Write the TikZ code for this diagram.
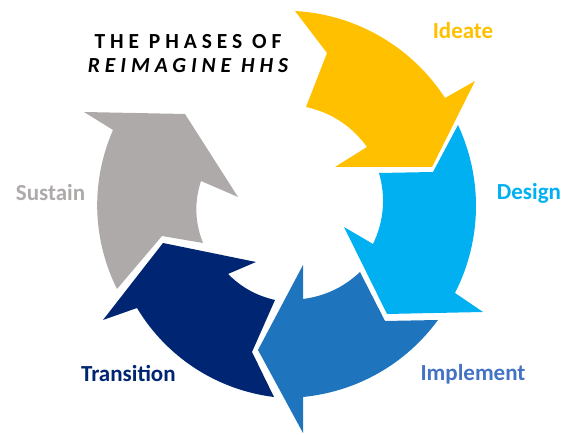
\documentclass[tikz,border=0pt]{standalone}
\usepackage{fontspec}
\setmainfont{Carlito}
\newfontfamily\spacedfont[LetterSpace=23]{Carlito}
\definecolor{ideateY}{RGB}{255,192,0}
\definecolor{designB}{RGB}{0,176,240}
\definecolor{implB}{RGB}{31,116,190}
\definecolor{implT}{RGB}{68,114,196}
\definecolor{transN}{RGB}{0,38,115}
\definecolor{sustG}{RGB}{174,170,170}

\begin{document}
\begin{tikzpicture}[x=1pt,y=1pt,looseness=0.9,
  lbl/.style={font=\fontsize{23}{27}\selectfont\bfseries,anchor=base,inner sep=0pt},
  ttl/.style={font=\fontsize{21.5}{24.3}\selectfont\spacedfont\bfseries,align=center,anchor=base,inner sep=0pt}]
  \useasboundingbox (0,0) rectangle (578,435);
  % the five arrows, clockwise from the top
  \fill[ideateY] (295,424) to[bend left=27] (445,337) -- (475,354) -- (432,268) -- (335,268) -- (367,288) to[bend right=21] (306,328) -- (327,382) -- cycle;
  \fill[designB] (458,310) to[bend left=26] (455,142) -- (483,123) -- (387,121) -- (344,208) -- (373,191) to[bend right=21] (379,262) -- (433,263) -- cycle;
  \fill[implB] (438,115) to[bend left=24] (303,38) -- (303,2) -- (258,85) -- (303,170) -- (303,136) to[bend right=18] (360,163) -- (385,114) -- cycle;
  \fill[transN] (274,38) to[bend left=26] (137,127) -- (103,115) -- (163,192) -- (256,173) -- (228,161) to[bend right=16] (275,135) -- (252,83) -- cycle;
  \fill[sustG] (117,146) to[bend left=25] (113,305) -- (84,323) -- (185,321) -- (238,238) -- (201,254) to[bend right=20] (203,192) -- (162,199) -- cycle;
  % labels
  \node[ttl] (title) at (188,362) {THE PHASES OF\\\itshape REIMAGINE HHS};
  \node[lbl,text=ideateY] (ideate) at (463,396.7) {Ideate};
  \node[lbl,text=designB] (design) at (529,235) {Design};
  \node[lbl,text=implT] (implement) at (473,54.5) {Implement};
  \node[lbl,text=transN] (transition) at (128.4,53.3) {Transition};
  \node[lbl,text=sustG] (sustain) at (50.5,234.3) {Sustain};
\end{tikzpicture}
\end{document}
